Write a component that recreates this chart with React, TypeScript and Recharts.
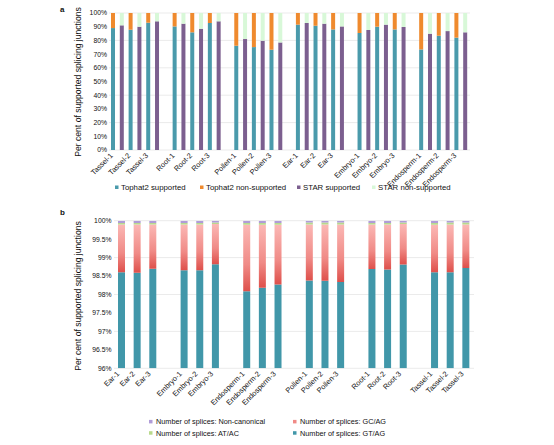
import React from 'react';
import { BarChart, Bar, XAxis, YAxis, CartesianGrid } from 'recharts';

// ---------- Panel a data ----------
const aGroups = [
  ['Tassel-1', 'Tassel-2', 'Tassel-3'],
  ['Root-1', 'Root-2', 'Root-3'],
  ['Pollen-1', 'Pollen-2', 'Pollen-3'],
  ['Ear-1', 'Ear-2', 'Ear-3'],
  ['Embryo-1', 'Embryo-2', 'Embryo-3'],
  ['Endosperm-1', 'Endosperm-2', 'Endosperm-3'],
];
const tophatSupported = [89.0, 87.8, 92.9, 90.2, 85.9, 92.7, 76.1, 75.1, 73.2, 91.5, 90.7, 88.0, 85.4, 90.0, 88.0, 73.4, 83.4, 82.0];
const starSupported = [91.0, 90.0, 93.9, 92.2, 88.5, 93.9, 81.0, 79.8, 78.5, 92.7, 92.2, 90.2, 87.6, 91.5, 89.8, 84.9, 86.8, 85.9];
const aTicks = [0, 10, 20, 30, 40, 50, 60, 70, 80, 90, 100];

// ---------- Panel b data ----------
const bGroups = [
  ['Ear-1', 'Ear-2', 'Ear-3'],
  ['Embryo-1', 'Embryo-2', 'Embryo-3'],
  ['Endosperm-1', 'Endosperm-2', 'Endosperm-3'],
  ['Pollen-1', 'Pollen-2', 'Pollen-3'],
  ['Root-1', 'Root-2', 'Root-3'],
  ['Tassel-1', 'Tassel-2', 'Tassel-3'],
];
const gtag = [98.60, 98.59, 98.70, 98.66, 98.66, 98.82, 98.09, 98.18, 98.27, 98.38, 98.37, 98.34, 98.69, 98.68, 98.81, 98.60, 98.60, 98.72];
const gcagTop = [99.90, 99.90, 99.90, 99.90, 99.90, 99.91, 99.89, 99.89, 99.89, 99.90, 99.90, 99.90, 99.90, 99.90, 99.91, 99.89, 99.90, 99.90];
const atac = [0.04, 0.04, 0.04, 0.04, 0.04, 0.04, 0.05, 0.05, 0.05, 0.05, 0.05, 0.05, 0.04, 0.04, 0.04, 0.05, 0.05, 0.05];
const bTicks = [96, 96.5, 97, 97.5, 98, 98.5, 99, 99.5, 100];

const C = {
  teal: '#4a9aab',
  orange: '#ef8a2e',
  purple: '#7c5f8f',
  lightGreen: '#d8f8d8',
  bTeal: '#4197a9',
  bPurple: '#b09cd8',
  bGreen: '#b8d98c',
  grid: '#ebebeb',
  text: '#111',
};
const FONT = 'Liberation Sans, Arial, Helvetica, sans-serif';

// build panel a slots
type ASlot = { k: string; label: string; tsup: number; tnon: number; ssup: number; snon: number };
const aData: ASlot[] = [];
let ai = 0;
aGroups.forEach((g, gi) => {
  g.forEach((name) => {
    const t = tophatSupported[ai];
    const s = starSupported[ai];
    aData.push({ k: 'a' + aData.length, label: name, tsup: t, tnon: 100 - t, ssup: 0, snon: 0 });
    aData.push({ k: 'a' + aData.length, label: '', tsup: 0, tnon: 0, ssup: s, snon: 100 - s });
    ai++;
  });
  if (gi < aGroups.length - 1) aData.push({ k: 'a' + aData.length, label: '', tsup: 0, tnon: 0, ssup: 0, snon: 0 });
});

type BSlot = { k: string; label: string; gt: number; gc: number; at: number; nc: number };
const bData: BSlot[] = [];
let bi = 0;
bGroups.forEach((g, gi) => {
  g.forEach((name) => {
    const gt = gtag[bi];
    const gc = gcagTop[bi] - gt;
    const at = atac[bi];
    const nc = 100 - gcagTop[bi] - at;
    bData.push({ k: 'b' + bData.length, label: name, gt, gc, at, nc });
    bi++;
  });
  if (gi < bGroups.length - 1) bData.push({ k: 'b' + bData.length, label: '', gt: 0, gc: 0, at: 0, nc: 0 });
});

const makeTick = (data: { k: string; label: string }[], dx: number, dy: number) => (props: any) => {
  const { x, y, payload } = props;
  const item = data.find((d) => d.k === payload.value);
  if (!item || !item.label) return <g />;
  return (
    <text
      x={0}
      y={0}
      transform={`translate(${x + dx},${y + dy}) rotate(-45)`}
      textAnchor="end"
      fontSize={7.4}
      fontFamily={FONT}
      fill={C.text}
    >
      {item.label}
    </text>
  );
};

const fmtPct = (v: number) => `${v}%`;

export default function App() {
  return (
    <div style={{ position: 'absolute', left: 0, top: 0, width: 554, height: 445, background: '#fff', fontFamily: FONT }}>
      <div style={{ position: 'absolute', left: 0, top: 0 }}>
        <BarChart width={554} height={205} data={aData} margin={{ top: 13, right: 84, bottom: 0, left: 0 }} barSize={4}>
          <CartesianGrid vertical={false} stroke={C.grid} />
          <XAxis
            dataKey="k"
            interval={0}
            axisLine={false}
            tickLine={false}
            tickSize={0}
            tickMargin={0}
            height={55}
            tick={makeTick(aData, 0, 6)}
          />
          <YAxis
            domain={[0, 100]}
            ticks={aTicks}
            tickFormatter={fmtPct}
            width={109}
            axisLine={false}
            tickLine={false}
            tickSize={0}
            tickMargin={2}
            tick={{ fontSize: 6.8, fill: C.text, fontFamily: FONT }}
          />
          <Bar dataKey="tsup" stackId="a" barSize={4} fill={C.teal} isAnimationActive={false} />
          <Bar dataKey="tnon" stackId="a" barSize={4} fill={C.orange} isAnimationActive={false} />
          <Bar dataKey="ssup" stackId="a" barSize={4} fill={C.purple} isAnimationActive={false} />
          <Bar dataKey="snon" stackId="a" barSize={4} fill={C.lightGreen} isAnimationActive={false} />
        </BarChart>
      </div>
      <div style={{ position: 'absolute', left: 0, top: 205 }}>
        <BarChart width={554} height={240} data={bData} margin={{ top: 15.7, right: 80, bottom: 0, left: 0 }} barSize={7}>
          <defs>
            <linearGradient id="gcagGrad" x1="0" y1="0" x2="0" y2="1">
              <stop offset="0%" stopColor="#fbb8b5" />
              <stop offset="60%" stopColor="#f08a86" />
              <stop offset="100%" stopColor="#de504b" />
            </linearGradient>
          </defs>
          <CartesianGrid vertical={false} stroke={C.grid} />
          <XAxis
            dataKey="k"
            interval={0}
            axisLine={false}
            tickLine={false}
            tickSize={0}
            tickMargin={0}
            height={76.7}
            tick={makeTick(bData, -2, 6)}
          />
          <YAxis
            domain={[96, 100]}
            allowDataOverflow
            ticks={bTicks}
            tickFormatter={fmtPct}
            width={114}
            axisLine={false}
            tickLine={false}
            tickSize={0}
            tickMargin={2.5}
            tick={{ fontSize: 6.8, fill: C.text, fontFamily: FONT }}
          />
          <Bar dataKey="gt" stackId="b" barSize={7} fill={C.bTeal} isAnimationActive={false} />
          <Bar dataKey="gc" stackId="b" barSize={7} fill="url(#gcagGrad)" isAnimationActive={false} />
          <Bar dataKey="at" stackId="b" barSize={7} fill={C.bGreen} isAnimationActive={false} />
          <Bar dataKey="nc" stackId="b" barSize={7} fill={C.bPurple} isAnimationActive={false} />
        </BarChart>
      </div>
      <svg width={554} height={445} style={{ position: 'absolute', left: 0, top: 0, pointerEvents: 'none' }}>
        <text x={60} y={12} fontSize={8} fontWeight="bold" fontFamily={FONT} fill="#111">a</text>
        <text x={60} y={215} fontSize={8} fontWeight="bold" fontFamily={FONT} fill="#111">b</text>
        <text transform="translate(80.5,82) rotate(-90)" textAnchor="middle" fontSize={8.6} fontFamily={FONT} fill={C.text}>
          Per cent of supported splicing junctions
        </text>
        <text transform="translate(80.5,296) rotate(-90)" textAnchor="middle" fontSize={8.6} fontFamily={FONT} fill={C.text}>
          Per cent of supported splicing junctions
        </text>
        {/* legend a */}
        {[
          { x: 115, c: C.teal, t: 'Tophat2 supported' },
          { x: 200, c: C.orange, t: 'Tophat2 non-supported' },
          { x: 297, c: C.purple, t: 'STAR supported' },
          { x: 372, c: C.lightGreen, t: 'STAR non-supported' },
        ].map((it) => (
          <g key={it.t}>
            <rect x={it.x} y={185.5} width={3.5} height={3.5} fill={it.c} />
            <text x={it.x + 6} y={190} fontSize={7.8} fontFamily={FONT} fill={C.text}>{it.t}</text>
          </g>
        ))}
        {/* legend b */}
        {[
          { x: 149, y: 421.7, c: C.bPurple, t: 'Number of splices: Non-canonical' },
          { x: 293, y: 421.7, c: '#f08a86', t: 'Number of splices: GC/AG' },
          { x: 149, y: 433, c: C.bGreen, t: 'Number of splices: AT/AC' },
          { x: 293, y: 433, c: C.bTeal, t: 'Number of splices: GT/AG' },
        ].map((it) => (
          <g key={it.t}>
            <rect x={it.x} y={it.y - 1.8} width={3.5} height={3.5} fill={it.c} />
            <text x={it.x + 7} y={it.y + 2.6} fontSize={7.3} fontFamily={FONT} fill={C.text}>{it.t}</text>
          </g>
        ))}
      </svg>
    </div>
  );
}
